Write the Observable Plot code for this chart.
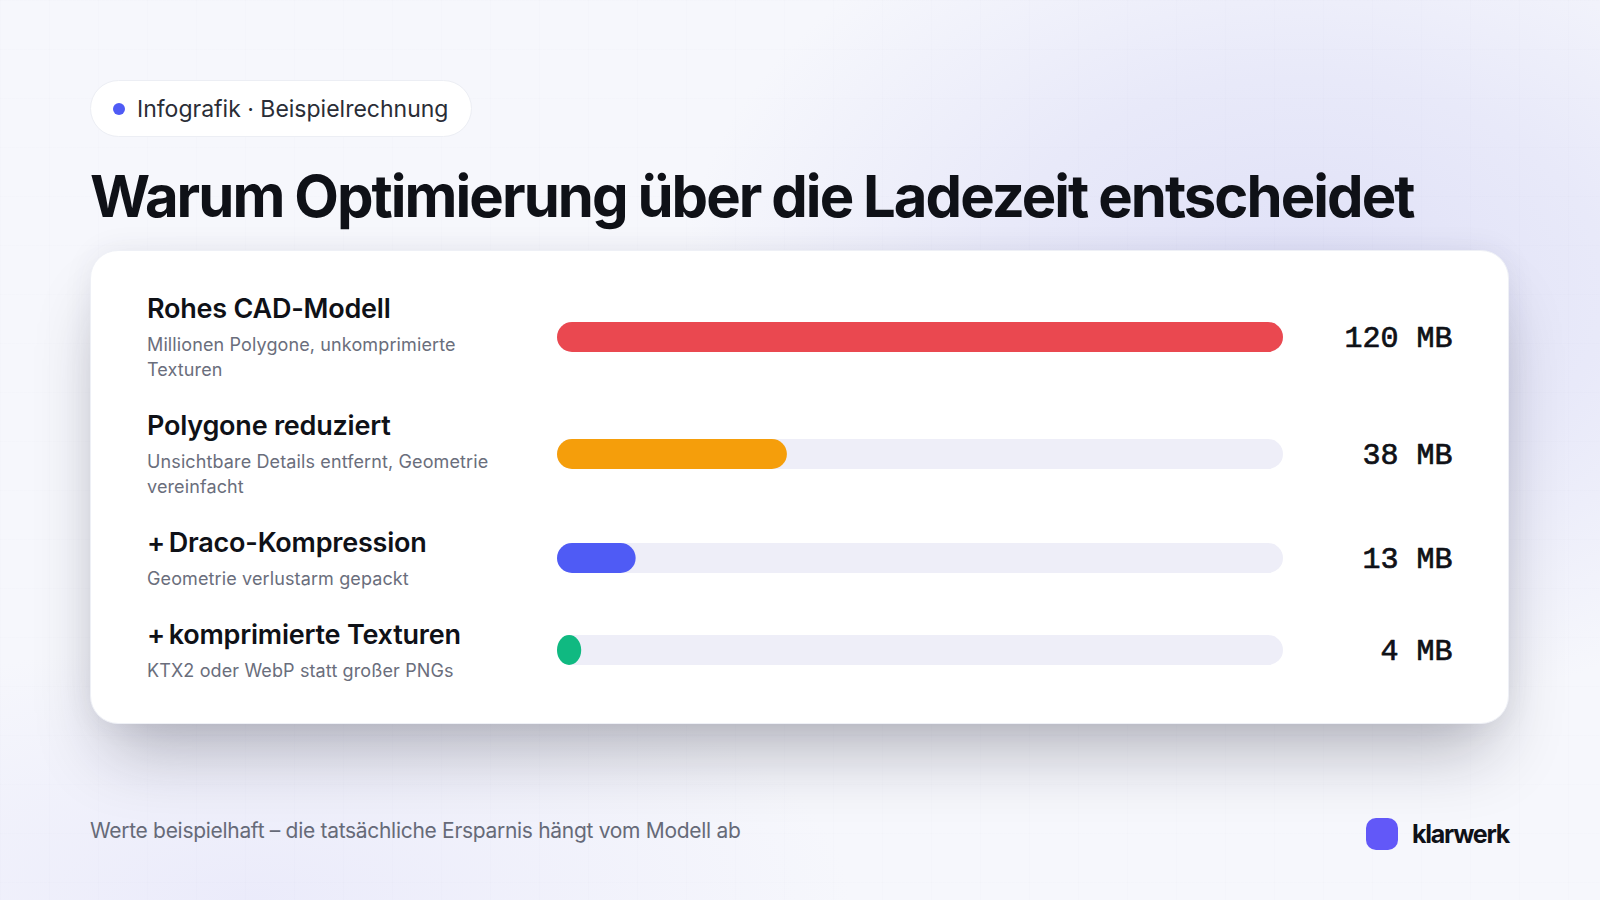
<!DOCTYPE html>
<html lang="de"><head><meta charset="utf-8">
<script src="https://cdn.jsdelivr.net/npm/d3@7"></script>
<script src="https://cdn.jsdelivr.net/npm/@observablehq/plot@0.6"></script>
<style>
html,body{margin:0;padding:0;width:1600px;height:900px;overflow:hidden}
body{position:relative;font-family:Inter,sans-serif;color:#0f1117;background:
 linear-gradient(rgba(90,90,160,.012) 1px,transparent 1px) 0 0/49px 49px,
 linear-gradient(90deg,rgba(90,90,160,.012) 1px,transparent 1px) 0 0/49px 49px,
 radial-gradient(ellipse 620px 430px at 1300px 290px,#dfe0f7 0%,rgba(223,224,247,.6) 50%,rgba(223,224,247,0) 100%),
 radial-gradient(ellipse 600px 260px at 250px 900px,rgba(232,232,250,.8) 0%,rgba(232,232,250,0) 100%),
 #f6f7fc}
.pill{position:absolute;left:90px;top:80px;width:382px;height:57px;box-sizing:border-box;background:#fff;border:1px solid #eceef4;border-radius:29px;display:flex;align-items:center;padding-left:22px;font-size:23px;color:#2a2d36;white-space:nowrap}
.pill i{width:12px;height:12px;border-radius:50%;background:#4f5bf5;margin-right:12px;flex:none}
h1{position:absolute;left:90px;top:158px;margin:0;font-size:58px;line-height:76px;font-weight:700;letter-spacing:-1.95px;word-spacing:-1px;white-space:nowrap;color:#0f1117}
.card{position:absolute;left:90px;top:250px;width:1419px;height:474px;box-sizing:border-box;background:#fff;border-radius:28px;border:1px solid #eef0f6;box-shadow:0 42px 70px -18px rgba(20,20,40,.3),0 0 30px rgba(60,60,90,.07)}
.row{position:absolute;left:56px;width:1306px}
.lab{position:absolute;left:0;top:0;width:360px}
.lab b{display:block;font-size:27px;line-height:32px;font-weight:600;letter-spacing:-.22px;color:#0f1117;white-space:nowrap}
.lab b.plus::first-letter{letter-spacing:-3px}
.lab span{display:block;margin-top:7px;font-size:18px;line-height:25px;letter-spacing:.12px;color:#6a6e7c}
.plotbox{position:absolute;left:410px;top:0}
.plotbox svg{display:block;overflow:visible}
.foot{position:absolute;left:90px;top:817px;font-size:21px;line-height:28px;letter-spacing:-.3px;color:#666a78}
.brand{position:absolute;left:1366px;top:818px;width:32px;height:32px;border-radius:10px;background:#6258f8}
.bname{position:absolute;left:1412px;top:818px;font-size:25px;line-height:32px;font-weight:700;letter-spacing:-1.25px;color:#0f1117}
</style></head><body>
<div class="pill"><i></i>Infografik · Beispielrechnung</div>
<h1>Warum Optimierung über die Ladezeit entscheidet</h1>
<div class="card" id="card"></div>
<div class="foot">Werte beispielhaft – die tatsächliche Ersparnis hängt vom Modell ab</div>
<div class="brand"></div><div class="bname">klarwerk</div>
<script>
const stages = ["Rohes CAD-Modell","Polygone reduziert","+ Draco-Kompression","+ komprimierte Texturen"];
const notes = ["Millionen Polygone, unkomprimierte Texturen","Unsichtbare Details entfernt, Geometrie vereinfacht","Geometrie verlustarm gepackt","KTX2 oder WebP statt großer PNGs"];
const sizesMB = [120,38,13,4];
const colors = ["#ea4850","#f59e0b","#4f5bf5","#10b981"];
const rowTops = [42,159,276,368];
const barOffset = [29,29,16,16];
const maxMB = 120;
const card = document.getElementById("card");
stages.forEach((s,i)=>{
  const row = document.createElement("div");
  row.className="row"; row.style.top = rowTops[i]+"px";
  const lab = document.createElement("div"); lab.className="lab";
  const b = document.createElement("b"); b.textContent=s;
  if (s.startsWith("+")) b.className="plus";
  const sp = document.createElement("span"); sp.textContent=notes[i];
  lab.append(b,sp); row.append(lab);
  const box = document.createElement("div"); box.className="plotbox"; box.style.top=barOffset[i]+"px";
  const d=[{stage:s,mb:sizesMB[i],color:colors[i]}];
  box.append(Plot.plot({
    width:896,height:30,marginLeft:0,marginRight:170,marginTop:0,marginBottom:0,
    style:{background:"transparent",overflow:"visible"},
    x:{domain:[0,maxMB],axis:null},
    marks:[
      Plot.barX(d,{x:()=>maxMB,fill:"#eeeef8",rx:15}),
      Plot.barX(d,{x:"mb",fill:"color",rx:15}),
      Plot.text(d,{x:()=>maxMB,text:e=>e.mb+" MB",textAnchor:"end",dx:169,dy:-0.5,frameAnchor:"middle",
        fontFamily:"'Liberation Mono',monospace",fontSize:30,fontWeight:400,fill:"#0f1117",stroke:"#0f1117",strokeWidth:0.7})
    ]
  }));
  row.append(box); card.append(row);
});
</script>
</body></html>
